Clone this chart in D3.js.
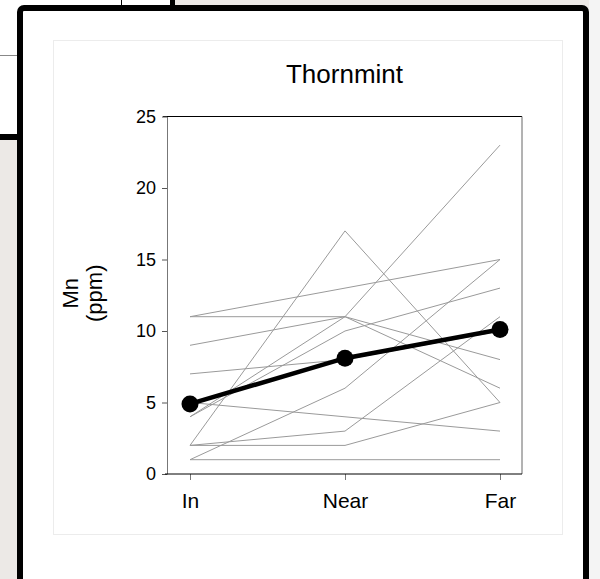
<!DOCTYPE html>
<html>
<head>
<meta charset="utf-8">
<script src="https://cdn.jsdelivr.net/npm/d3@7"></script>
<style>
  body { margin: 0; background: #fff; }
  svg { display: block; font-family: Arial, "Liberation Sans", sans-serif; }
</style>
</head>
<body>
<div id="chart"></div>
<script>
// sampling sites and Mn (ppm) per plant
const sites = ["In", "Near", "Far"];
const inPpm   = [11, 11, 9, 4, 4, 2, 1, 2, 5, 2, 1, 7];
const nearPpm = [13, 11, 11, 11, 10, 17, 6, 3, 4, 2, 1, 8];
const farPpm  = [15, 6, 8, 23, 13, 5, 15, 11, 3, 5, 1, 10];
const meanPpm = [4.9, 8.1, 10.1];
const yTicks = [0, 5, 10, 15, 20, 25];

const width = 600, height = 579;
const plot = {left: 167, right: 522, top: 116.5, bottom: 474};

const svg = d3.select("#chart").append("svg")
    .attr("width", width)
    .attr("height", height);

// backdrop: slide behind the framed picture
svg.append("rect").attr("x", 0).attr("y", 0).attr("width", width).attr("height", height).attr("fill", "#ece9e6");
svg.append("rect").attr("x", 0).attr("y", 0).attr("width", 20).attr("height", 137).attr("fill", "#fff");
svg.append("line").attr("x1", 0).attr("x2", 20).attr("y1", 55.5).attr("y2", 55.5).attr("stroke", "#888");
svg.append("rect").attr("x", 0).attr("y", 134).attr("width", 20).attr("height", 6).attr("fill", "#000");
svg.append("rect").attr("x", 0).attr("y", 0).attr("width", 172).attr("height", 8).attr("fill", "#fff");
svg.append("line").attr("x1", 121.5).attr("x2", 121.5).attr("y1", 0).attr("y2", 8).attr("stroke", "#000");
svg.append("rect").attr("x", 170).attr("y", 0).attr("width", 5).attr("height", 8).attr("fill", "#000");
svg.append("rect").attr("x", 589).attr("y", 0).attr("width", 11).attr("height", height).attr("fill", "#f4f4f4");

// the framed white picture
svg.append("rect")
    .attr("x", 20).attr("y", 8)
    .attr("width", 566).attr("height", 600)
    .attr("rx", 4)
    .attr("fill", "#fff")
    .attr("stroke", "#000")
    .attr("stroke-width", 6);

// faint panel edge of the embedded graph
svg.append("rect")
    .attr("x", 53.5).attr("y", 40.5)
    .attr("width", 509).attr("height", 494)
    .attr("fill", "none")
    .attr("stroke", "#ececec");

const x = d3.scalePoint().domain(sites).range([190, 500]);
const y = d3.scaleLinear().domain([0, 25]).range([plot.bottom, plot.top]);

// frame lines
svg.append("line").attr("x1", plot.left - 4).attr("x2", plot.right).attr("y1", plot.top).attr("y2", plot.top).attr("stroke", "#000");
svg.append("line").attr("x1", plot.right).attr("x2", plot.right).attr("y1", plot.top).attr("y2", plot.bottom).attr("stroke", "#666");

// axes
const yAxis = svg.append("g")
    .attr("transform", `translate(${plot.left},0)`)
    .call(d3.axisLeft(y).tickValues(yTicks).tickSize(5).tickSizeOuter(0).tickPadding(6));
yAxis.select(".domain").attr("stroke", "#777");
yAxis.selectAll(".tick line").attr("stroke", "#555");
yAxis.selectAll("text").attr("font-size", 18).attr("fill", "#000").attr("font-family", "Arial, 'Liberation Sans', sans-serif");

const xAxis = svg.append("g")
    .attr("transform", `translate(0,${plot.bottom})`)
    .call(d3.axisBottom(x).tickSize(6).tickSizeOuter(0).tickPadding(13));
xAxis.select(".domain").remove();
xAxis.selectAll(".tick line").attr("stroke", "#777");
xAxis.selectAll("text").attr("font-size", 21).attr("fill", "#000").attr("font-family", "Arial, 'Liberation Sans', sans-serif");
svg.append("line").attr("x1", plot.left - 2).attr("x2", plot.right).attr("y1", plot.bottom).attr("y2", plot.bottom).attr("stroke", "#000");

// one gray line per plant
const plants = inPpm.map((v, i) => [v, nearPpm[i], farPpm[i]]);
const line = d3.line().x((d, i) => x(sites[i])).y(d => y(d));

svg.append("g").selectAll("path")
    .data(plants)
    .join("path")
    .attr("d", line)
    .attr("fill", "none")
    .attr("stroke", "#9a9a9a")
    .attr("stroke-width", 1);

// mean
svg.append("path")
    .datum(meanPpm)
    .attr("d", line)
    .attr("fill", "none")
    .attr("stroke", "#000")
    .attr("stroke-width", 4.5);

svg.append("g").selectAll("circle")
    .data(meanPpm)
    .join("circle")
    .attr("cx", (d, i) => x(sites[i]))
    .attr("cy", d => y(d))
    .attr("r", 8.5)
    .attr("fill", "#000");

// title and y label
svg.append("text")
    .attr("x", (plot.left + plot.right) / 2)
    .attr("y", 83)
    .attr("text-anchor", "middle")
    .attr("font-size", 26)
    .text("Thornmint");

const yLabel = svg.append("text")
    .attr("transform", `translate(78,${(plot.top + plot.bottom) / 2 - 2}) rotate(-90)`)
    .attr("text-anchor", "middle")
    .attr("font-size", 22);
yLabel.append("tspan").attr("x", 0).attr("y", 0).text("Mn");
yLabel.append("tspan").attr("x", 0).attr("y", 24).text("(ppm)");
</script>
</body>
</html>
